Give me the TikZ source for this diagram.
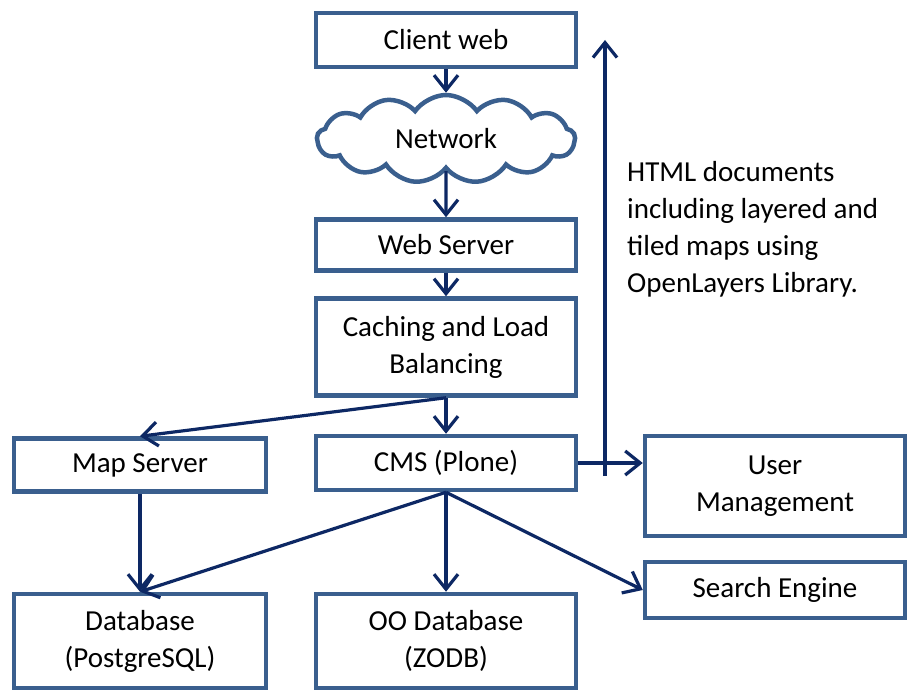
\documentclass[tikz,border=0pt]{standalone}
\usepackage{fontspec}
\setmainfont{Carlito}
\usetikzlibrary{shapes.symbols,arrows.meta}
\definecolor{boxline}{RGB}{58,95,142}
\definecolor{arrline}{RGB}{13,40,100}

\begin{document}
\begin{tikzpicture}[x=1pt,y=-1pt,
    every node/.style = {font=\fontsize{29}{37}\selectfont},
    box/.style = {draw=boxline, line width=4.5pt, minimum width=260pt, align=center, inner sep=2pt},
    net/.style = {cloud, cloud puffs=13, cloud puff arc=110, draw=boxline, line width=4.5pt,
                  minimum width=258pt, minimum height=88pt, aspect=2.8},
    link/.style = {draw=arrline, line width=3.2pt, -{Straight Barb[length=15pt,width=24pt,line width=3.2pt]}}]
                \useasboundingbox (0,0) rectangle (907,692);
                \node[box, minimum height=54pt] (client) at (446,40) {Client web};
                \node[net] (network) at (446,139) {Network};
                \node[box, minimum height=51pt] (web) at (446,245) {Web Server};
                \node[box, minimum height=97pt] (cache) at (446,347) {Caching and Load\\Balancing};
                \node[box, minimum width=252pt, minimum height=53pt] (map) at (140,465) {Map Server};
                \node[box, minimum height=54pt] (cms) at (446,463) {CMS (Plone)};
                \node[box, minimum height=100pt] (user) at (775,486) {User\\Management};
                \node[box, minimum height=56pt] (search) at (775,590) {Search Engine};
                \node[box, minimum width=252pt, minimum height=94pt] (db) at (140,641) {Database\\(PostgreSQL)};
                \node[box, minimum height=94pt] (oodb) at (446,641) {OO Database\\(ZODB)};
                \node[align=left, anchor=north west, inner sep=0pt] (html) at (627,161)
                    {HTML documents\\including layered and\\tiled maps using\\OpenLayers Library.};
                \coordinate (up0) at (605,476);
                \coordinate (up1) at (605,40);
                \draw[link] (client) -- (network);
                \draw[link] (network) -- (web);
                \draw[link] (web) -- (cache);
                \draw[link] (cache.south) -- (cms.north);
                \draw[link] (cache.south) -- (map.north);
                \draw[link] (map) -- (db);
                \draw[link] (cms.south) -- (db.north);
                \draw[link] (cms.south) -- (oodb.north);
                \draw[link] (cms.south) -- (search.west);
                \draw[link] (cms.east) -- (cms.east -| user.west);
                \draw[link] (up0) -- (up1);
            \end{tikzpicture}
\end{document}
